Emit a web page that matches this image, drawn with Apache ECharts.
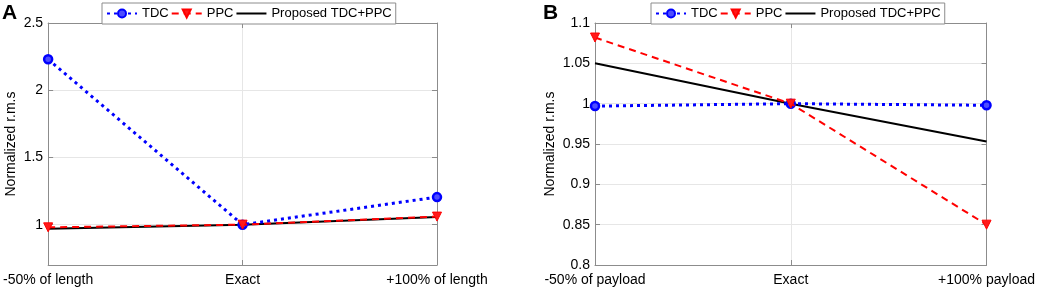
<!DOCTYPE html>
<html>
<head>
<meta charset="utf-8">
<script src="https://cdn.jsdelivr.net/npm/echarts@6/dist/echarts.min.js"></script>
<style>
  html, body { margin: 0; padding: 0; background: #fff; }
  #chart { width: 1038px; height: 299px; }
</style>
</head>
<body>
<div id="chart"></div>
<script>
// data
const categoriesA = ['-50% of length', 'Exact', '+100% of length'];
const categoriesB = ['-50% of payload', 'Exact', '+100% payload'];
const seriesNames = ['TDC', 'PPC', 'Proposed TDC+PPC'];
const tdcA = [2.23, 1.0, 1.205];
const ppcA = [0.98, 1.0, 1.06];
const propA = [0.97, 1.0, 1.057];
const tdcB = [0.997, 1.0, 0.998];
const ppcB = [1.082, 1.0, 0.85];
const propB = [1.05, 1.0, 0.953];

const font = 'Liberation Sans, Arial, sans-serif';
const frame = '#8c8c8c';
const gridColor = '#e6e6e6';

let myChart = echarts.init(document.getElementById('chart'));

function xAxes(cats, gridIndex) {
  return [
    {
      type: 'category', gridIndex: gridIndex, data: cats, boundaryGap: false,
      axisLine: { lineStyle: { color: frame, width: 1 } },
      axisTick: { inside: true, length: 5, lineStyle: { color: frame } },
      axisLabel: { color: '#000', fontFamily: font, fontSize: 14, margin: 8 },
      splitLine: { show: true, lineStyle: { color: gridColor } }
    },
    {
      type: 'category', gridIndex: gridIndex, data: cats, boundaryGap: false, position: 'top',
      axisLine: { lineStyle: { color: frame, width: 1 } },
      axisTick: { inside: true, length: 5, lineStyle: { color: frame } },
      axisLabel: { show: false },
      splitLine: { show: false }
    }
  ];
}

function yAxes(gridIndex, range, nameGap, showMin) {
  return [
    Object.assign({
      type: 'value', gridIndex: gridIndex,
      name: 'Normalized r.m.s', nameLocation: 'middle', nameGap: nameGap,
      nameTextStyle: { color: '#000', fontFamily: font, fontSize: 14 },
      axisLine: { show: true, lineStyle: { color: frame, width: 1 } },
      axisTick: { show: true, inside: true, length: 5, lineStyle: { color: frame } },
      axisLabel: { color: '#000', fontFamily: font, fontSize: 14, margin: 5, showMinLabel: showMin },
      splitLine: { show: true, lineStyle: { color: gridColor } }
    }, range),
    Object.assign({
      type: 'value', gridIndex: gridIndex, position: 'right',
      axisLine: { show: true, lineStyle: { color: frame, width: 1 } },
      axisTick: { show: true, inside: true, length: 5, lineStyle: { color: frame } },
      axisLabel: { show: false },
      splitLine: { show: false }
    }, range)
  ];
}

function lines(tdc, ppc, prop, axisIdx) {
  return [
    {
      name: seriesNames[0], type: 'line', data: tdc, xAxisIndex: axisIdx, yAxisIndex: axisIdx,
      symbol: 'circle', symbolSize: 8, z: 3,
      lineStyle: { color: '#0000ff', width: 3, type: [3, 4] },
      itemStyle: { color: '#4d4dff', borderColor: '#0000ff', borderWidth: 2.5 }
    },
    {
      name: seriesNames[1], type: 'line', data: ppc, xAxisIndex: axisIdx, yAxisIndex: axisIdx,
      symbol: 'triangle', symbolRotate: 180, symbolSize: 9, z: 4,
      lineStyle: { color: '#ff0000', width: 2, type: [7, 5] },
      itemStyle: { color: '#ff1a1a', borderColor: '#ff0000', borderWidth: 1 }
    },
    {
      name: seriesNames[2], type: 'line', data: prop, xAxisIndex: axisIdx, yAxisIndex: axisIdx,
      symbol: 'none', z: 2,
      lineStyle: { color: '#000', width: 2 },
      itemStyle: { color: '#000' }
    }
  ];
}

function legend(left) {
  return {
    data: [
      { name: seriesNames[0] },
      { name: seriesNames[1] },
      { name: seriesNames[2], itemStyle: { opacity: 0 } }
    ],
    left: left, top: 3, orient: 'horizontal',
    backgroundColor: '#fff', borderColor: frame, borderWidth: 1,
    padding: [4, 4], itemGap: 2, itemWidth: 30, itemHeight: 10,
    textStyle: { color: '#000', fontFamily: font, fontSize: 13 }
  };
}

let option = {
  animation: false,
  backgroundColor: '#fff',
  grid: [
    { left: 46, right: 601, top: 23, bottom: 34 },
    { left: 595, right: 49, top: 23, bottom: 34 }
  ],
  legend: [legend(102), legend(651)],
  xAxis: xAxes(categoriesA, 0).concat(xAxes(categoriesB, 1)),
  yAxis: yAxes(0, { min: 0.7, max: 2.5, splitNumber: 4 }, 30, false)
    .concat(yAxes(1, { min: 0.8, max: 1.1, interval: 0.05 }, 38, true)),
  graphic: [
    { type: 'text', left: 2, top: 3, style: { text: 'A', font: 'bold 21px ' + font, fill: '#000' } },
    { type: 'text', left: 543, top: 3, style: { text: 'B', font: 'bold 21px ' + font, fill: '#000' } }
  ],
  series: lines(tdcA, ppcA, propA, 0).concat(lines(tdcB, ppcB, propB, 2))
};

myChart.setOption(option);
</script>
</body>
</html>
